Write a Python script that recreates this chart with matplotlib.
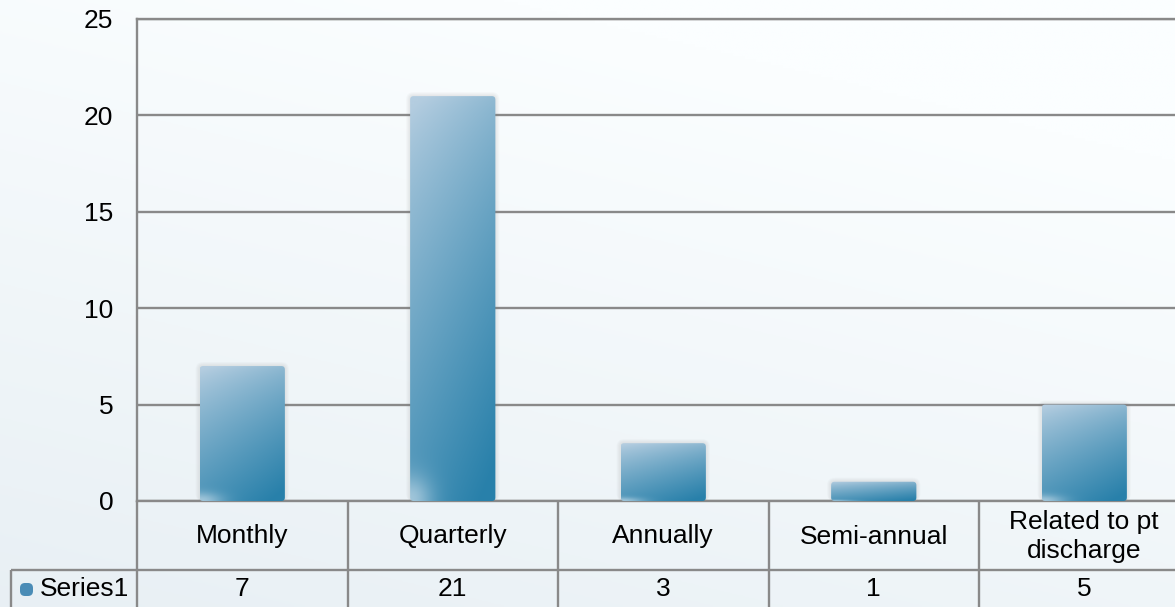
import numpy as np
import matplotlib
matplotlib.use("Agg")
import matplotlib.pyplot as plt
from matplotlib.patches import FancyBboxPatch
from matplotlib.colors import to_rgb

# data
categories = ["Monthly", "Quarterly", "Annually", "Semi-annual", "Related to pt\ndischarge"]
values = [7, 21, 3, 1, 5]
series_name = "Series1"
y_ticks = [0, 5, 10, 15, 20, 25]

plt.rcParams['font.family'] = ['Liberation Sans', 'DejaVu Sans']
FS = 19
GRID = '#898989'

W, H = 1175, 607
fig = plt.figure(figsize=(W / 100, H / 100), dpi=100)

# background gradient over whole figure
bg = fig.add_axes([0, 0, 1, 1])
bg.set_axis_off()
yy, xx = np.mgrid[0:1:200j, 0:1:400j]
t = np.clip(0.75 * yy + 0.35 * (1 - xx) - 0.2, 0, 1)
top, bot = np.array(to_rgb('#fbfeff')), np.array(to_rgb('#e6eef3'))
bg.imshow(top + (bot - top) * t[..., None], aspect='auto', extent=(0, 1, 0, 1))
bg.set_xlim(0, 1)
bg.set_ylim(0, 1)

# main plot area (extends a little past the right edge, like the original)
col_px = 210.5
left_px, top_px, base_px = 137, 19, 501
ax_w = 5 * col_px
ax = fig.add_axes([left_px / W, (H - base_px) / H, ax_w / W, (base_px - top_px) / H])
ax.set_facecolor('none')
ax.set_yticks(y_ticks)
ax.set_xticks([])
ax.tick_params(axis='y', length=0, pad=17, labelsize=FS)
ax.yaxis.grid(True, color=GRID, lw=1.7)
ax.set_axisbelow(True)
ax.spines['right'].set_visible(False)
for s in ['left', 'top', 'bottom']:
    ax.spines[s].set_color(GRID)
    ax.spines[s].set_linewidth(1.7)

# bar gradient
light = np.array(to_rgb('#b4cde0'))
dark = np.array(to_rgb('#2880aa'))
gy, gx = np.mgrid[0:1:120j, 0:1:60j]
g = np.clip(0.8 * gy ** 0.75 + 0.3 * gx - 0.05, 0, 1)
# soft light glint in the lower-left corner
glint = np.exp(-((gx / 0.25) ** 2 + ((1 - gy) / 0.06) ** 2))
grad = light + (dark - light) * g[..., None]
grad = grad + (np.array(to_rgb('#d8e6f0')) - grad) * (0.6 * glint)[..., None]

x_per_px = 1.0 / col_px
y_per_px = 25.0 / (base_px - top_px)
bar_w = 0.405
r = 3.5 * x_per_px
for i, v in enumerate(values):
    x0 = i - bar_w / 2
    # faint shadow
    for k in (1, 2, 3, 4):
        sh = FancyBboxPatch((x0 - k * x_per_px, 0), bar_w + 2 * k * x_per_px, v + k * y_per_px,
                            boxstyle=f"round,pad=0,rounding_size={r + k * x_per_px}",
                            mutation_aspect=y_per_px / x_per_px,
                            fc='#7a7a7a', ec='none', alpha=0.035, zorder=2)
        ax.add_patch(sh)
    clip = FancyBboxPatch((x0, 0), bar_w, v,
                          boxstyle=f"round,pad=0,rounding_size={r}",
                          mutation_aspect=y_per_px / x_per_px,
                          fc='none', ec='none', zorder=3)
    ax.add_patch(clip)
    im = ax.imshow(grad, extent=(x0, x0 + bar_w, 0, v), aspect='auto',
                   interpolation='bilinear', zorder=3)
    im.set_clip_path(clip)
ax.set_xlim(-0.5, len(categories) - 0.5)
ax.set_ylim(0, 25)

# data table below the plot
tab_h = H - base_px
tax = fig.add_axes([left_px / W, 0, ax_w / W, tab_h / H])
tax.set_axis_off()
tax.set_xlim(-0.5, len(categories) - 0.5)
tax.set_ylim(tab_h, 0)
row1 = 69
hdr_left = -0.5 - (left_px - 11) * x_per_px
lkw = dict(color=GRID, lw=1.7, clip_on=False, solid_capstyle='butt')
for k in range(len(categories) + 1):
    tax.plot([k - 0.5, k - 0.5], [0, tab_h + 2], **lkw)
tax.plot([hdr_left, len(categories) - 0.5], [row1, row1], **lkw)
tax.plot([hdr_left, hdr_left], [row1, tab_h + 2], **lkw)

row2_mid = (row1 + tab_h) / 2 + 1
for i, (c, v) in enumerate(zip(categories, values)):
    tax.text(i, row1 / 2 + 1, c, ha='center', va='center', fontsize=FS,
             linespacing=1.3, clip_on=False)
    tax.text(i, row2_mid, str(v), ha='center', va='center', fontsize=FS, clip_on=False)

# legend key for the series row
key_x = -0.5 - (left_px - 20) * x_per_px
key = FancyBboxPatch((key_x, row2_mid - 6.5), 13 * x_per_px, 13,
                     boxstyle=f"round,pad=0,rounding_size={5 * x_per_px}",
                     mutation_aspect=1 / x_per_px,
                     fc='#4a8cb6', ec='none', clip_on=False)
tax.add_patch(key)
tax.text(-0.5 - (left_px - 40) * x_per_px, row2_mid, series_name,
         ha='left', va='center', fontsize=FS, clip_on=False)

fig.savefig('out.png', dpi=100)
